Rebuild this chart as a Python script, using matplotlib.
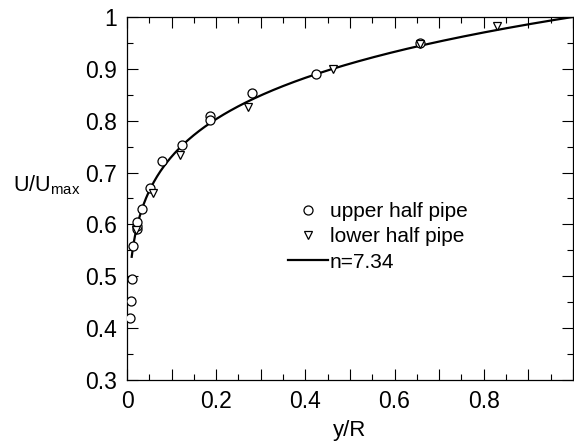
import numpy
import matplotlib
matplotlib.use('Agg')
import matplotlib.pyplot as plt
from matplotlib.ticker import MultipleLocator, FuncFormatter

plt.rcParams['font.family'] = ['Liberation Sans', 'DejaVu Sans']
plt.rcParams['mathtext.fontset'] = 'custom'
plt.rcParams['mathtext.rm'] = 'Liberation Sans'

# measured profile, upper half of the pipe
upperX = [0.007, 0.009, 0.011, 0.014, 0.022, 0.022, 0.022, 0.034, 0.052,
          0.078, 0.123, 0.186, 0.186, 0.280, 0.424, 0.657]
upperY = [0.420, 0.452, 0.495, 0.558, 0.591, 0.597, 0.605, 0.630, 0.670,
          0.722, 0.753, 0.809, 0.801, 0.853, 0.890, 0.950]

# measured profile, lower half of the pipe
lowerX = [0.020, 0.058, 0.119, 0.271, 0.462, 0.657, 0.830]
lowerY = [0.589, 0.661, 0.734, 0.827, 0.900, 0.948, 0.983]

# power law fit U/Umax = (y/R)^(1/n)
nExp = 7.34

fig = plt.figure(figsize=(5.74, 4.46), dpi=100)
ax = fig.add_axes([0.2213, 0.148, 0.7767, 0.814])

yFit = numpy.linspace(0.0105, 1.0, 400)
uFit = yFit ** (1.0 / nExp)

ax.plot(upperX, upperY, linestyle='none', marker='o', markersize=6.5,
        markerfacecolor='white', markeredgecolor='black', markeredgewidth=0.9,
        label='upper half pipe', zorder=3)
ax.plot(lowerX, lowerY, linestyle='none', marker='v', markersize=6,
        markerfacecolor='white', markeredgecolor='black', markeredgewidth=0.9,
        label='lower half pipe', zorder=3)
ax.plot(yFit, uFit, color='black', linewidth=1.6, label='n=%.2f' % nExp, zorder=2)

ax.set_xlim(0, 1)
ax.set_ylim(0.3, 1)

ax.xaxis.set_major_locator(MultipleLocator(0.1))
ax.xaxis.set_minor_locator(MultipleLocator(0.05))
ax.yaxis.set_major_locator(MultipleLocator(0.1))
ax.yaxis.set_minor_locator(MultipleLocator(0.05))


def xFmt(v, pos):
    k = int(round(v * 10))
    if k % 2 or k >= 10:
        return ''
    return '%g' % round(v, 2)


ax.xaxis.set_major_formatter(FuncFormatter(xFmt))
ax.yaxis.set_major_formatter(FuncFormatter(lambda v, pos: '%g' % round(v, 2)))

ax.tick_params(which='both', direction='in', top=True, right=True,
               labelsize=16.5, width=0.8)
ax.tick_params(which='major', length=8)
ax.tick_params(which='minor', length=4)
ax.tick_params(axis='x', pad=7)
ax.tick_params(axis='y', pad=7)
for sp in ax.spines.values():
    sp.set_linewidth(0.9)

ax.set_xlabel('y/R', fontsize=16, labelpad=5)
fig.text(0.022, 0.585, r'U/U$_\mathregular{max}$', fontsize=15.5,
         ha='left', va='center')

ax.legend(loc='upper left', bbox_to_anchor=(0.343, 0.513), frameon=False,
          fontsize=15, handlelength=1.9, handletextpad=0.1,
          labelspacing=0.3, borderaxespad=0)

fig.savefig('out.png', dpi=100)
